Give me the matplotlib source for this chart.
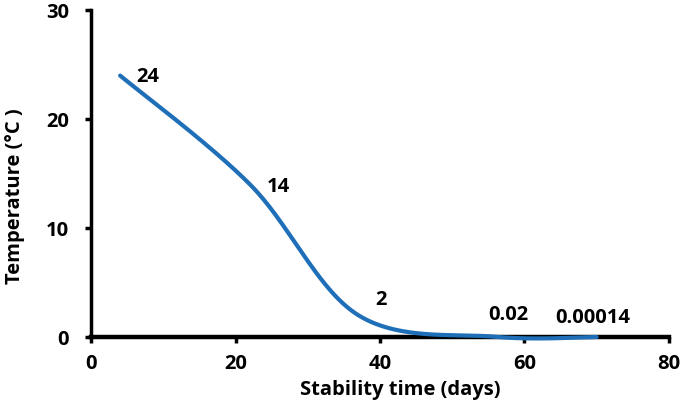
import numpy as np
import matplotlib
matplotlib.use('Agg')
import matplotlib.pyplot as plt

plt.rcParams['font.family'] = ['Open Sans', 'DejaVu Sans']
plt.rcParams['font.weight'] = 'bold'

days = [4, 22, 37, 56, 70]
temps = [24, 14, 2, 0.02, 0.00014]
labels = ['24', '14', '2', '0.02', '0.00014']
# offset of each data label from its point, in points
label_off = [(12, -1), (12, -2), (12, 11), (9, 16), (-3, 14)]
label_ha = ['left', 'left', 'left', 'center', 'center']
fsize = 14.5


def smooth(x, y, n=60):
	# Excel-like smoothed line: Catmull-Rom style Bezier segments
	p = np.column_stack([x, y]).astype(float)
	pts = []
	for i in range(len(p) - 1):
		p0 = p[i - 1] if i > 0 else p[i]
		p1, p2 = p[i], p[i + 1]
		p3 = p[i + 2] if i + 2 < len(p) else p[i + 1]
		c1 = p1 + (p2 - p0) / 6
		c2 = p2 - (p3 - p1) / 6
		t = np.linspace(0, 1, n)[:, None]
		seg = (1-t)**3*p1 + 3*(1-t)**2*t*c1 + 3*(1-t)*t**2*c2 + t**3*p2
		pts.append(seg)
	pts = np.vstack(pts)
	return pts[:, 0], pts[:, 1]


fig = plt.figure(figsize=(6.81, 4.08), dpi=100)
ax = fig.add_axes([0.134, 0.174, 0.848, 0.801])

sx, sy = smooth(days, temps)
ax.plot(sx, sy, color='#1F6FB8', linewidth=3, solid_capstyle='round', zorder=3, clip_on=False)

for d, t, lab, off, ha in zip(days, temps, labels, label_off, label_ha):
	ax.annotate(lab, (d, t), xytext=off, textcoords='offset points',
		ha=ha, va='center', fontsize=fsize, fontweight='bold')

ax.set_xlim(0, 80)
ax.set_ylim(0, 30)
ax.set_xticks([0, 20, 40, 60, 80])
ax.set_yticks([0, 10, 20, 30])
ax.spines['top'].set_visible(False)
ax.spines['right'].set_visible(False)
ax.spines['left'].set_linewidth(2.5)
ax.spines['bottom'].set_linewidth(3.2)
ax.spines['bottom'].set_zorder(2)
ax.tick_params(axis='both', width=2.5, length=4, labelsize=fsize)
ax.tick_params(axis='y', pad=12)
ax.tick_params(axis='x', pad=8)
for lab in ax.get_xticklabels() + ax.get_yticklabels():
	lab.set_fontweight('bold')

ax.set_xlabel('Stability time (days)', fontsize=fsize, fontweight='bold')
ax.set_ylabel('Temperature (°C )', fontsize=fsize, fontweight='bold')
ax.xaxis.set_label_coords(0.535, -0.133)
ax.yaxis.set_label_coords(-0.115, 0.43)

fig.savefig('out.png', dpi=100)
